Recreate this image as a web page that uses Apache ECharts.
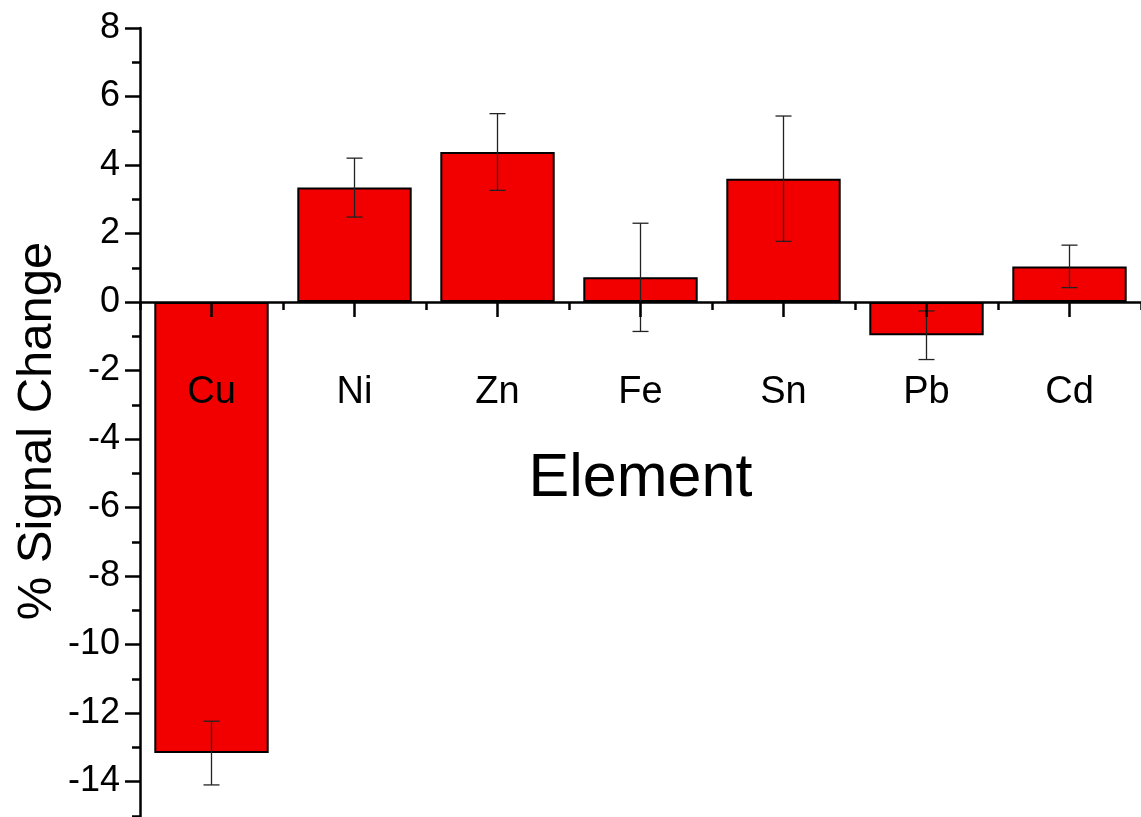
<!DOCTYPE html>
<html>
<head>
<meta charset="utf-8">
<title>Signal change by element</title>
<script src="https://cdn.jsdelivr.net/npm/echarts@6/dist/echarts.min.js"></script>
<style>
  html, body { margin: 0; padding: 0; background: #fff; }
  #main { width: 1141px; height: 817px; }
</style>
</head>
<body>
<div id="main"></div>
<script>
// data
var elements = ['Cu', 'Ni', 'Zn', 'Fe', 'Sn', 'Pb', 'Cd'];
var signalChange = [-13.17, 3.34, 4.38, 0.72, 3.60, -0.97, 1.04];
var errorSize = [0.93, 0.86, 1.12, 1.58, 1.83, 0.71, 0.62];

var chart = echarts.init(document.getElementById('main'));

var errData = elements.map(function (e, i) {
  return [i, signalChange[i] - errorSize[i], signalChange[i] + errorSize[i]];
});

var font = 'Liberation Sans, Arial, sans-serif';
// axis runs from -16 to 8, the zero line sits 8/24 of the way down
var gridTop = 28, gridH = 822;
var zeroOffset = -(gridH - gridH * 8 / 24);

var option = {
  animation: false,
  backgroundColor: '#fff',
  grid: { left: 140, right: 0, top: gridTop, height: gridH, outerBoundsMode: 'none', containLabel: false },
  graphic: [{
    type: 'text',
    x: 37,
    y: 431,
    rotation: Math.PI / 2,
    style: {
      text: '% Signal Change',
      fontSize: 49,
      fontFamily: font,
      fill: '#000',
      align: 'center',
      verticalAlign: 'middle'
    }
  }],
  xAxis: [{
    type: 'category',
    data: elements,
    z: 10,
    offset: zeroOffset,
    axisLine: { onZero: false, lineStyle: { color: '#000', width: 2.5 } },
    axisTick: { show: true, alignWithLabel: true, length: 15, lineStyle: { color: '#000', width: 2.5 } },
    axisLabel: { margin: 72, fontSize: 38, color: '#000', fontFamily: font },
    name: 'Element',
    nameLocation: 'middle',
    nameGap: 147,
    nameTextStyle: { fontSize: 61, color: '#000', fontFamily: font }
  }, {
    // short ticks on category boundaries
    type: 'category',
    data: elements,
    position: 'bottom',
    z: 10,
    offset: zeroOffset,
    axisLine: { onZero: false, show: false },
    axisTick: { show: true, length: 8, lineStyle: { color: '#000', width: 2.5 } },
    axisLabel: { show: false }
  }],
  yAxis: {
    type: 'value',
    min: -16,
    max: 8,
    interval: 2,
    z: 10,
    axisLine: { show: true, lineStyle: { color: '#000', width: 2.5 } },
    axisTick: { show: true, length: 15, lineStyle: { color: '#000', width: 2.5 } },
    minorTick: { show: true, splitNumber: 2, length: 8, lineStyle: { color: '#000', width: 2.5 } },
    splitLine: { show: false },
    axisLabel: { margin: 20, fontSize: 36, color: '#000', fontFamily: font }
  },
  series: [{
    type: 'bar',
    xAxisIndex: 0,
    data: signalChange,
    barWidth: '80%',
    itemStyle: { color: '#f20000', borderColor: '#000', borderWidth: 2 }
  }, {
    type: 'custom',
    xAxisIndex: 0,
    data: errData,
    z: 5,
    renderItem: function (params, api) {
      var lo = api.coord([api.value(0), api.value(1)]);
      var hi = api.coord([api.value(0), api.value(2)]);
      var w = 8;
      var st = { stroke: '#222', lineWidth: 1.3 };
      return {
        type: 'group',
        children: [
          { type: 'line', shape: { x1: hi[0], y1: hi[1], x2: lo[0], y2: lo[1] }, style: st },
          { type: 'line', shape: { x1: hi[0] - w, y1: hi[1], x2: hi[0] + w, y2: hi[1] }, style: st },
          { type: 'line', shape: { x1: lo[0] - w, y1: lo[1], x2: lo[0] + w, y2: lo[1] }, style: st }
        ]
      };
    }
  }]
};

chart.setOption(option);
</script>
</body>
</html>
